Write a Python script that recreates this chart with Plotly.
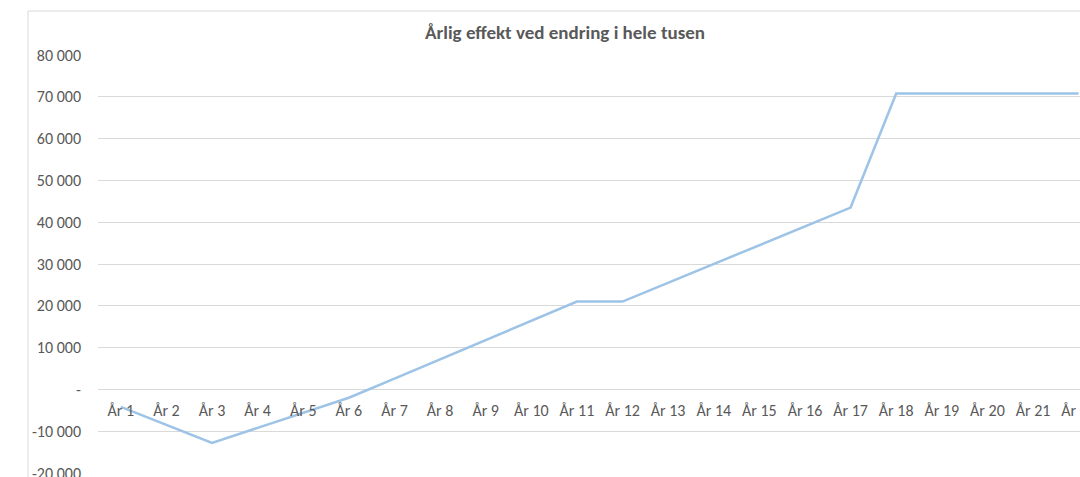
import plotly.graph_objects as go

# Data
years = [f"År {i}" for i in range(1, 23)]
effekt = [-4200, -8500, -12800, -9200, -5600, -2000, 2600, 7200, 11800, 16400,
          21000, 21000, 25500, 30000, 34500, 39000, 43500, 70800, 70800, 70800,
          70800, 70800]

y_tickvals = [80000, 70000, 60000, 50000, 40000, 30000, 20000, 10000, 0, -10000, -20000]
y_ticktext = ["80 000", "70 000", "60 000", "50 000", "40 000", "30 000", "20 000",
              "10 000", "-", "-10 000", "-20 000"]

FONT = "Carlito, Calibri, Lato, sans-serif"
TEXT_COLOR = "#595959"
GRID_COLOR = "#D9D9D9"

W, H = 1080, 477

fig = go.Figure()
fig.add_trace(go.Scatter(
    x=list(range(len(years))),
    y=effekt,
    mode="lines",
    line=dict(color="#9DC3E6", width=2.5),
    showlegend=False,
    hoverinfo="skip",
))

fig.update_layout(
    width=W, height=H,
    margin=dict(l=98, r=0, t=55, b=4),
    paper_bgcolor="white",
    plot_bgcolor="white",
    font=dict(family=FONT, color=TEXT_COLOR, size=16),
    title=dict(
        text="<b>Årlig effekt ved endring i hele tusen</b>",
        x=565 / W, xanchor="center", xref="container",
        y=1 - 32 / H, yanchor="middle", yref="container",
        font=dict(family=FONT, size=19, color=TEXT_COLOR),
    ),
    xaxis=dict(
        tickmode="array",
        tickvals=list(range(len(years))),
        ticktext=years,
        range=[-0.5, 21.03],  # chart is cropped on the right, like the original
        anchor="free",
        position=0.2,         # category labels sit just under the zero line
        showgrid=False,
        zeroline=False,
        showline=False,
        ticks="",
        ticklabelstandoff=10,
        ticklabeloverflow="allow",
        automargin=False,
        tickfont=dict(size=16, color=TEXT_COLOR),
    ),
    yaxis=dict(
        range=[-20000, 80000],
        tickmode="array",
        tickvals=y_tickvals,
        ticktext=y_ticktext,
        showgrid=True,
        gridcolor=GRID_COLOR,
        gridwidth=1,
        zeroline=True,
        zerolinecolor=GRID_COLOR,
        zerolinewidth=1,
        showline=False,
        ticks="",
        ticklabelstandoff=16,
        ticklabeloverflow="allow",
        automargin=False,
        tickfont=dict(size=16, color=TEXT_COLOR),
    ),
)

# chart-area border like the Excel frame
fig.add_shape(
    type="rect", xref="paper", yref="paper",
    x0=-70 / 982, x1=1.05, y0=-0.05, y1=(473 - 11) / 418,
    line=dict(color=GRID_COLOR, width=1),
    fillcolor="rgba(0,0,0,0)",
    layer="below",
)

# drop the default body margin so the figure fills the window exactly
fig.write_html(
    "out.html",
    config={"displayModeBar": False},
    post_script="document.body.style.margin='0';document.body.style.overflow='hidden';",
)
